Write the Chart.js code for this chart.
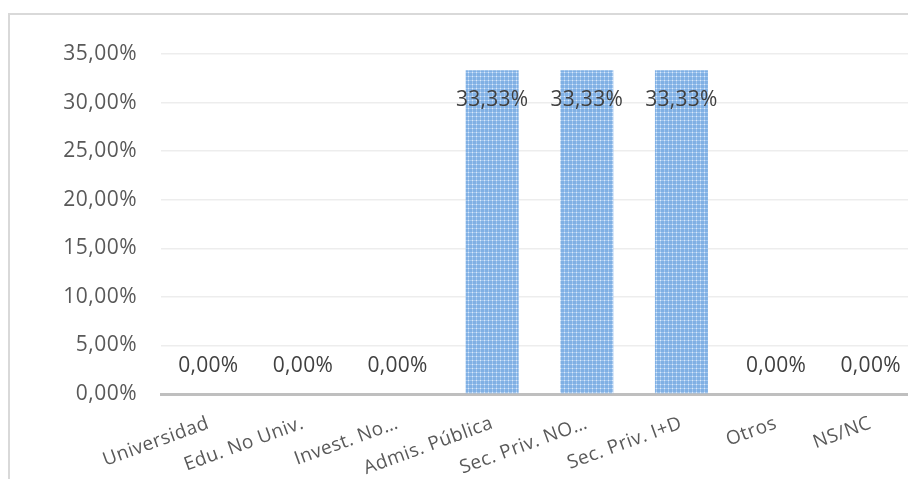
<!DOCTYPE html>
<html>
<head>
<meta charset="utf-8">
<script src="https://cdn.jsdelivr.net/npm/chart.js@4.4.1/dist/chart.umd.min.js"></script>
<style>
  html, body { margin: 0; padding: 0; background: #fff; overflow: hidden; width: 908px; height: 479px; }
  #frame { position: absolute; left: 8px; top: 13px; width: 1000px; height: 600px;
           border-left: 2px solid #D9D9D9; border-top: 2px solid #D9D9D9; box-sizing: border-box; }
  #wrap { position: absolute; left: 0; top: 0; width: 930px; height: 479px; }
</style>
</head>
<body>
<div id="frame"></div>
<div id="wrap"><canvas id="c"></canvas></div>
<script>
const categories = ["Universidad", "Edu. No Univ.", "Invest. No…", "Admis. Pública", "Sec. Priv. NO…", "Sec. Priv. I+D", "Otros", "NS/NC"];
const values = [0, 0, 0, 33.33, 33.33, 33.33, 0, 0];
const yTicks = [0, 5, 10, 15, 20, 25, 30, 35];

function fmt(v) { return v.toFixed(2).replace('.', ',') + '%'; }

function makePattern() {
  const p = document.createElement('canvas');
  p.width = 4; p.height = 4;
  const g = p.getContext('2d');
  g.fillStyle = '#80B0E4'; g.fillRect(0, 0, 4, 4);
  g.fillStyle = '#A2C6EE'; g.fillRect(0, 0, 4, 1); g.fillRect(0, 0, 1, 4);
  g.fillStyle = '#DCEAF9'; g.fillRect(0, 0, 1, 1);
  return document.getElementById('c').getContext('2d').createPattern(p, 'repeat');
}

const spacingPlugin = {
  id: 'spacing',
  beforeDraw(chart) { chart.ctx.letterSpacing = '0.5px'; }
};

const labelPlugin = {
  id: 'valueLabels',
  afterDatasetsDraw(chart) {
    const ctx = chart.ctx;
    const meta = chart.getDatasetMeta(0);
    const yScale = chart.scales.y;
    ctx.save();
    ctx.letterSpacing = '0.3px';
    ctx.font = '21px "Open Sans"';
    ctx.fillStyle = '#404040';
    ctx.textAlign = 'center';
    ctx.textBaseline = 'middle';
    meta.data.forEach((bar, i) => {
      const v = values[i];
      let y;
      if (v > 0) y = bar.y + 30;
      else y = yScale.getPixelForValue(0) - 28;
      ctx.fillText(fmt(v), bar.x, y);
    });
    ctx.restore();
  }
};

new Chart(document.getElementById('c'), {
  type: 'bar',
  data: {
    labels: categories,
    datasets: [{
      data: values,
      backgroundColor: makePattern(),
      borderWidth: 0,
      categoryPercentage: 1,
      barPercentage: 0.56
    }]
  },
  options: {
    responsive: true,
    maintainAspectRatio: false,
    animation: false,
    layout: { padding: { top: 54, right: 12, left: 0, bottom: 0 } },
    plugins: { legend: { display: false }, tooltip: { enabled: false } },
    scales: {
      x: {
        grid: { display: false, drawTicks: false },
        border: { display: true, color: '#BFBFBF', width: 3 },
        ticks: {
          color: '#595959',
          font: { family: 'Open Sans', size: 19 },
          minRotation: 20, maxRotation: 20,
          padding: 18,
          autoSkip: false
        },
        afterFit(scale) { scale.height = 85; }
      },
      y: {
        min: 0, max: 35,
        afterBuildTicks(scale) { scale.ticks = yTicks.map(v => ({ value: v })); },
        grid: { color: '#EDEDED', lineWidth: 1.5, drawTicks: false },
        border: { display: false },
        ticks: {
          color: '#595959',
          font: { family: 'Open Sans', size: 21 },
          padding: 24,
          callback: v => fmt(v)
        },
        afterFit(scale) { scale.width = 161; }
      }
    }
  },
  plugins: [spacingPlugin, labelPlugin]
});
</script>
</body>
</html>
